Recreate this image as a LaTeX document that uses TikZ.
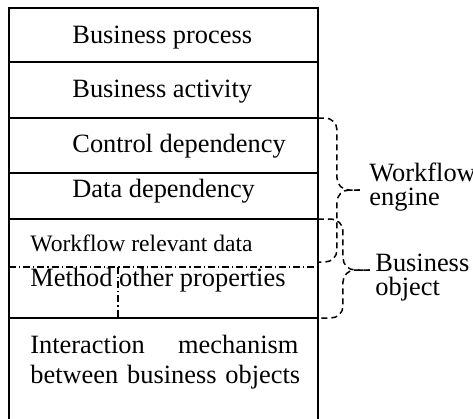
\documentclass[tikz,border=0pt]{standalone}
\usepackage{fontspec}
\setmainfont{Liberation Serif}

\begin{document}
\begin{tikzpicture}[
    x=0.5pt, y=-0.5pt,
    frame/.style={line width=1pt},
    lbl/.style={inner sep=0pt, anchor=base west, font=\fontsize{13.2}{15}\selectfont},
    small/.style={inner sep=0pt, anchor=base west, font=\fontsize{11.8}{14}\selectfont},
    side/.style={inner sep=0pt, anchor=north west, align=left, font=\fontsize{13.2}{12}\selectfont},
    brc/.style={line width=0.75pt, dash pattern=on 3pt off 2pt, rounded corners=6pt},
    dashdot/.style={line width=0.75pt, dash pattern=on 3.5pt off 1.5pt on 0.6pt off 1.5pt}
]
    \useasboundingbox (0,0) rectangle (473,419);
    % layer stack
    \draw[frame] (9,419) -- (9,8) -- (318,8) -- (318,419);
    \foreach \y in {62,118,173,219,318}
        \draw[frame] (9,\y) -- (318,\y);
    \draw[dashdot] (9,267) -- (318,267);
    \draw[dashdot] (118,267) -- (118,318);

    \node[lbl] (bproc) at (72,43) {Business process};
    \node[lbl] (bact) at (72,97) {Business activity};
    \node[lbl] (ctrl) at (72,152) {Control dependency};
    \node[lbl] (data) at (72,197) {Data dependency};
    \node[small] (wrd) at (30,251) {Workflow relevant data};
    \node[lbl] (meth) at (30,286) {Method other properties};
    \node[lbl, anchor=north west, text width=134pt, align=left] (inter) at (30,335)
        {Interaction\hfill mechanism\\\mbox{between business objects}};

    % braces
    \draw[brc] (318,118) -| (337,190) -- (360,190);
    \draw[brc] (360,190) -| (337,262) -- (318,262);
    \draw[brc] (318,219) -| (343,270) -- (370,270);
    \draw[brc] (370,270) -| (343,318) -- (318,318);
    \node[side] (wfe) at (369,163) {Workflow\\engine};
    \node[side] (bobj) at (375,254) {Business\\object};
\end{tikzpicture}
\end{document}
